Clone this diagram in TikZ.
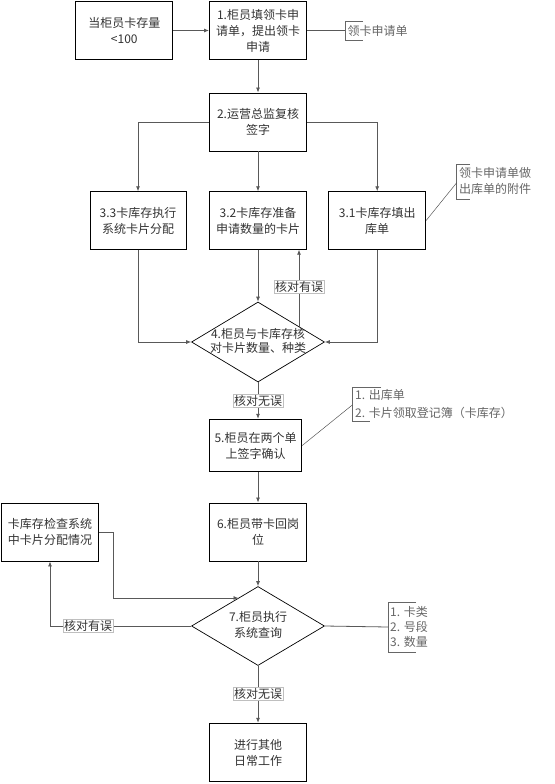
\documentclass[tikz,border=0pt]{standalone}
\usepackage{fontspec}
\setmainfont{Noto Sans CJK SC}
\usetikzlibrary{arrows.meta,shapes.geometric,calc}
\newcommand\myfs{\fontsize{12}{16}\selectfont}
\newcommand\myfsb{\fontsize{12}{14.5}\selectfont}
\tikzset{
 box/.style={draw=black, line width=0.9pt, minimum width=97pt, minimum height=58pt, inner sep=2pt, align=center, text=black!80, font=\myfs},
 dia/.style={draw=black, line width=0.7pt, shape=diamond, minimum width=133pt, minimum height=80pt, inner sep=0pt},
 dtext/.style={align=center, inner sep=0pt, text=black!80},
 conn/.style={draw=black!65, line width=0.8pt},
 arr/.style={conn, -{Latex[length=5pt,width=4pt]}},
 diag/.style={draw=black!70, line width=0.45pt},
 lab/.style={fill=white, draw=black!25, line width=0.3pt, inner sep=1pt, text=black!80, font=\myfs},
 note/.style={anchor=west, align=left, inner sep=0pt, text=black!60},
 brk/.style={draw=black!60, line width=0.6pt},
}
\begin{document}
\begin{tikzpicture}[x=1pt,y=-1pt]
\path[use as bounding box, fill=white] (0,0) rectangle (554,784);

% boxes
\node[box] (a) at (124.3,30.5) {当柜员卡存量\\{\fontsize{12}{14}\selectfont <100}};
\node[box] (s1) at (258,30.5) {1.柜员填领卡申\\请单，提出领卡\\申请};
\node[box] (s2) at (258,122) {2.运营总监复核\\签字};
\node[box, minimum width=96pt, minimum height=57.5pt] (s33) at (138,220.5) {3.3卡库存执行\\系统卡片分配};
\node[box, minimum height=57.5pt] (s32) at (258,220.5) {3.2卡库存准备\\申请数量的卡片};
\node[box, minimum height=57.5pt] (s31) at (377.2,220.5) {3.1卡库存填出\\库单};
\node[dia] (d4) at (258,342) {};
\node[dtext, font=\myfsb] (d4t) at (258,341) {4.柜员与卡库存核\\对卡片数量、种类};
\node[box, minimum width=92.5pt, minimum height=52.5pt] (s5) at (255.5,445.5) {5.柜员在两个单\\上签字确认};
\node[box] (s6) at (258,532) {6.柜员带卡回岗\\位};
\node[box, minimum width=96.6pt] (chk) at (50,532) {卡库存检查系统\\中卡片分配情况};
\node[dia, minimum height=79pt] (d7) at (258,626) {};
\node[dtext, font=\myfs] (d7t) at (258,625) {7.柜员执行\\系统查询};
\node[box, minimum height=58.5pt] (s8) at (258,752.5) {进行其他\\日常工作};

% annotations
\coordinate (b1) at (345,30.5);
\draw[brk] (363,21.7) -- (345,21.7) -- (345,40.7) -- (363,40.7);
\node[note, font=\myfs] (n1) at (347.5,30.5) {领卡申请单};

\coordinate (b31) at (456.7,182.7);
\draw[brk] (470,164) -- (456.7,164) -- (456.7,199) -- (470,199);
\node[note, font=\myfs] (n31) at (459,181) {领卡申请单做\\出库单的附件};

\coordinate (b5) at (352.3,405);
\draw[brk] (381,387.3) -- (352.3,387.3) -- (352.3,421.7) -- (370,421.7);
\node[note, font=\fontsize{12}{18}\selectfont] (n5) at (355,404) {1. 出库单\\2. 卡片领取登记簿（卡库存）};

\coordinate (b7) at (388,627);
\draw[brk] (416,602.7) -- (388,602.7) -- (388,652) -- (416,652);
\node[note, font=\fontsize{12}{15}\selectfont] (n7) at (390,627) {1. 卡类\\2. 号段\\3. 数量};

% connectors
\draw[arr] (a.east) -- (s1.west);
\draw[conn] (s1.east) -- (b1);
\draw[arr] (s1.south) -- (s2.north);
\draw[arr] (s2.west) -| (s33.north);
\draw[arr] (s2.east) -| (s31.north);
\draw[arr] (s2.south) -- (s32.north);
\draw[arr] (s33.south) |- (d4.west);
\draw[arr] (s31.south) |- (d4.east);
\draw[arr] (s32.south) -- (d4.north);
\coordinate (r4) at (299,326.5);
\draw[arr] (r4) -- (r4 |- s32.south);
\draw[diag] (s31.east) -- (b31);
\draw[arr] (d4.south) -- (d4.south |- s5.north);
\draw[diag] (s5.east) -- (b5);
\draw[arr] (s6.north |- s5.south) -- (s6.north);
\draw[arr] (s6.south) -- (d7.north);
\coordinate (e7) at (238.5,598);
\draw[arr] (chk.east) -- ++(14.4,0) |- (e7);
\draw[arr] (d7.west) -| (chk.south);
\draw[arr] (d7.south) -- (s8.north);
\draw[conn] (d7.east) -- (b7);

% labels
\node[lab] (l1) at (299,287) {核对有误};
\node[lab] (l2) at (258,400.5) {核对无误};
\node[lab] (l3) at (88,626) {核对有误};
\node[lab] (l4) at (258,694) {核对无误};
\end{tikzpicture}
\end{document}
